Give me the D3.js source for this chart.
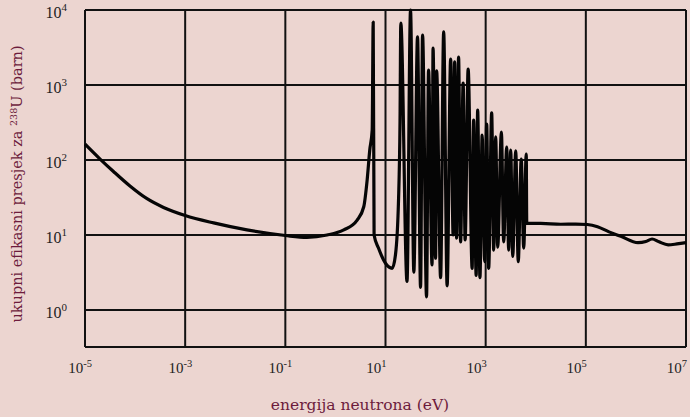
<!DOCTYPE html>
<html>
<head>
<meta charset="utf-8">
<script src="https://cdn.jsdelivr.net/npm/d3@7"></script>
<style>
  html, body { margin: 0; padding: 0; background: #ecd5d0; }
  svg { display: block; }
</style>
</head>
<body>
<script>
// total cross section of U-238
const energyEV = [
  1e-5, 2.0e-5, 3.7e-5, 7.9e-5, 1.7e-4, 3.7e-4, 1e-3, 3.7e-3, 0.0171, 0.1, 0.27, 0.68, 1.47, 2.72, 3.68, 4.3, 4.85, 5.42,
  5.68, 5.92, 7.24, 10, 13.6, 15.8, 18.2, 19.5, 20.2,
  26.9, 31.6, 36.8, 43.6, 50.1, 55, 66, 72.4, 85, 89, 100, 105, 126, 145, 170, 200, 224, 240, 263, 288, 316,
  355, 389, 447, 537, 575, 646, 692, 769, 851, 955, 1047, 1148, 1318, 1445, 1585, 1738, 2060, 2290, 2630,
  2880, 3160, 3470, 3980, 4470, 5130, 5750, 6460, 6610,
  12600, 31600, 63000, 1.07e5, 1.71e5, 2.9e5, 5.0e5, 1.1e6, 1.58e6, 2.1e6, 2.9e6, 4.4e6, 6.6e6, 1e7
];
const sigmaBarn = [
  163, 103, 70.3, 45, 30.7, 23.3, 18.2, 14.5, 11.7, 9.85, 9.3, 10, 11.7, 15.8, 23.8, 54, 136, 251,
  6900, 10, 6.7, 4.2, 3.6, 5.4, 29, 341, 6700,
  2.4, 10000, 3.2, 4370, 2.0, 4640, 1.5, 1580, 4.0, 3100, 4.9, 1540, 2.7, 5100, 2.1, 2220, 10, 2030, 9.1, 2360, 8.1,
  1060, 8.6, 1630, 3.6, 341, 2.9, 464, 2.7, 215, 4.4, 302, 3.6, 424, 6.3, 203, 6.9, 236, 8.1, 149,
  6.3, 136, 5.2, 132, 4.4, 103, 6.7, 120, 14.3,
  14.3, 13.9, 14.0, 13.8, 12.9, 11, 9.6, 7.9, 8.2, 8.85, 8.1, 7.4, 7.6, 7.9
];
const xTickExp = [-5, -3, -1, 1, 3, 5, 7];
const yTickExp = [0, 1, 2, 3, 4];
const xTitle = 'energija neutrona (eV)';

const width = 690, height = 417;
const svg = d3.select('body').append('svg')
  .attr('width', width)
  .attr('height', height);

svg.append('rect').attr('width', width).attr('height', height).attr('fill', '#ecd5d0');

const x = d3.scaleLog().domain([1e-5, 1e7]).range([85, 686]);
// 75px per decade, bottom edge sits a bit under 10^0
const y = d3.scaleLog().domain([Math.pow(10, -37 / 75), 1e4]).range([347, 10]);

const grid = svg.append('g')
  .attr('stroke', '#111')
  .attr('stroke-width', 2)
  .attr('fill', 'none');

grid.selectAll('line.v')
  .data(xTickExp)
  .enter().append('line')
  .attr('class', 'v')
  .attr('x1', d => x(Math.pow(10, d))).attr('x2', d => x(Math.pow(10, d)))
  .attr('y1', y.range()[1]).attr('y2', y.range()[0]);

grid.selectAll('line.h')
  .data(yTickExp)
  .enter().append('line')
  .attr('class', 'h')
  .attr('y1', d => y(Math.pow(10, d))).attr('y2', d => y(Math.pow(10, d)))
  .attr('x1', x.range()[0]).attr('x2', x.range()[1]);

// bottom edge of the frame
grid.append('line')
  .attr('x1', x.range()[0]).attr('x2', x.range()[1])
  .attr('y1', y.range()[0]).attr('y2', y.range()[0]);

const pts = energyEV.map((e, i) => [e, sigmaBarn[i]]);
const line = d3.line()
  .x(d => x(d[0]))
  .y(d => y(d[1]))
  .curve(d3.curveMonotoneX);

svg.append('path')
  .datum(pts)
  .attr('d', line)
  .attr('fill', 'none')
  .attr('stroke', '#050505')
  .attr('stroke-width', 3.2)
  .attr('stroke-linejoin', 'round');

// tick labels: 10 with a raised exponent
const labelFont = '"Liberation Serif", "Times New Roman", serif';

const xl = svg.append('g').attr('font-family', labelFont).attr('fill', '#222');
xl.selectAll('text')
  .data(xTickExp)
  .enter().append('text')
  .attr('x', d => x(Math.pow(10, d)) + (d < 0 ? 7 : 1))
  .attr('y', 373)
  .attr('text-anchor', 'end')
  .attr('font-size', 15)
  .each(function(d) {
    const t = d3.select(this);
    t.append('tspan').text('10');
    t.append('tspan').attr('dy', -6).attr('font-size', 10.5).text(String(d));
  });

const yl = svg.append('g').attr('font-family', labelFont).attr('fill', '#222');
yl.selectAll('text')
  .data(yTickExp)
  .enter().append('text')
  .attr('x', 67)
  .attr('y', d => y(Math.pow(10, d)) + 8)
  .attr('text-anchor', 'end')
  .attr('font-size', 16)
  .each(function(d) {
    const t = d3.select(this);
    t.append('tspan').text('10');
    t.append('tspan').attr('dy', -7).attr('font-size', 11).text(String(d));
  });

// axis titles
const titleFont = '"DejaVu Serif", serif';
svg.append('text')
  .attr('x', 360)
  .attr('y', 410)
  .attr('text-anchor', 'middle')
  .attr('font-family', titleFont)
  .attr('font-size', 15.5)
  .attr('fill', '#6d1c3c')
  .text(xTitle);

const yt = svg.append('text')
  .attr('transform', 'translate(22,184) rotate(-90)')
  .attr('text-anchor', 'middle')
  .attr('font-family', titleFont)
  .attr('font-size', 14.5)
  .attr('fill', '#6d1c3c');
yt.append('tspan').text('ukupni efikasni presjek za ');
yt.append('tspan').attr('dy', -5).attr('font-size', 9.5).text('238');
yt.append('tspan').attr('dy', 5).text('U (barn)');
</script>
</body>
</html>
